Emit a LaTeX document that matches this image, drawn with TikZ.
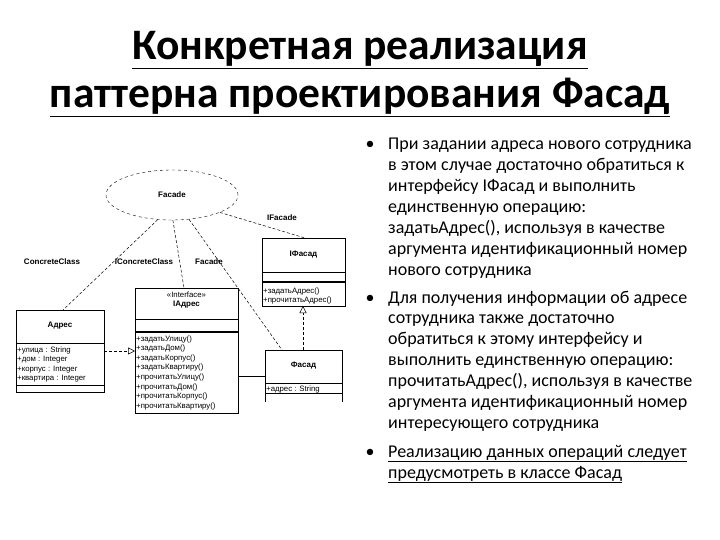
\documentclass[tikz,border=0pt]{standalone}
\usepackage{fontspec}
\setmainfont{Carlito}
\newfontfamily\arial{Liberation Sans}
\usetikzlibrary{shapes.geometric,arrows.meta}
\begin{document}
\begin{tikzpicture}[x=1pt,y=-1pt,
  title/.style={font=\fontsize{43.5}{46}\selectfont\bfseries,anchor=base},
  txt/.style={font=\fontsize{18}{20}\selectfont,anchor=base west,inner sep=0},
  bul/.style={font=\fontsize{18}{20}\selectfont,anchor=base,inner sep=0},
  lbl/.style={font=\arial\fontsize{8}{9}\selectfont\bfseries,inner sep=0},
  mem/.style={font=\arial\fontsize{7.8}{8}\selectfont,anchor=base west,inner sep=0},
  cls/.style={draw,line width=0.6pt},
  dep/.style={densely dashed,line width=0.5pt},
  real/.style={densely dashed,line width=0.5pt,-{Triangle[open,length=7pt,width=7pt]}}]
\useasboundingbox (0,0) rectangle (720,540);
% title
\node[title] (t1) at (360,60) {\underline{Конкретная реализация}};
\node[title] (t2) at (360,108) {\underline{паттерна проектирования Фасад}};
% bullets
\node[bul] (b1) at (370,150) {•};
\node[bul] (b2) at (370,303) {•};
\node[bul] (b3) at (370,457) {•};
\foreach \i/\s in {0/{При задании адреса нового сотрудника},1/{в этом случае достаточно обратиться к},2/{интерфейсу IФасад и выполнить},3/{единственную операцию:},4/{задатьАдрес(), используя в качестве},5/{аргумента идентификационный номер},6/{нового сотрудника}}
  \node[txt] (p\i) at (388,150+20.9*\i) {\s};
\foreach \i/\s in {0/{Для получения информации об адресе},1/{сотрудника также достаточно},2/{обратиться к этому интерфейсу и},3/{выполнить единственную операцию:},4/{прочитатьАдрес(), используя в качестве},5/{аргумента идентификационный номер},6/{интересующего сотрудника}}
  \node[txt] (q\i) at (388,303+20.9*\i) {\s};
\node[txt] (r0) at (388,457) {\underline{Реализацию данных операций следует}};
\node[txt] (r1) at (388,478) {\underline{предусмотреть в классе Фасад}};
% ellipse
\node[draw,dashed,ellipse,minimum width=132,minimum height=50,lbl] (fac) at (172,195) {Facade};
% labels
\node[lbl] (l1) at (52,262) {ConcreteClass};
\node[lbl] (l2) at (144,262) {IConcreteClass};
\node[lbl] (l3) at (209,262) {Facade};
\node[lbl] (l4) at (282,218) {IFacade};
% IFasad
\draw[cls] (262,238) rectangle (345,306);
\draw (262,272) -- (345,272);
\draw[line width=1.4pt] (262,282) -- (345,282);
\node[lbl] (nif) at (303.5,255) {IФасад};
\node[mem] (m1) at (263,293) {+задатьАдрес()};
\node[mem] (m2) at (263,302) {+прочитатьАдрес()};
\coordinate (iftop) at (305,238);
\coordinate (ifbot) at (303,306);
% IAdres
\draw[cls] (135,288) rectangle (238,413);
\draw (135,319) -- (238,319);
\draw[line width=1.4pt] (135,332) -- (238,332);
\node[mem,anchor=base] (st) at (186.5,297) {«Interface»};
\node[lbl] (nia) at (186.5,305) {IАдрес};
\foreach \i/\s in {0/{+задатьУлицу()},1/{+задатьДом()},2/{+задатьКорпус()},3/{+задатьКвартиру()},4/{+прочитатьУлицу()},5/{+прочитатьДом()},6/{+прочитатьКорпус()},7/{+прочитатьКвартиру()}}
  \node[mem] (o\i) at (136,341+9.6*\i) {\s};
\coordinate (iatop) at (184,288);
\coordinate (ialeft) at (135,351);
\coordinate (iaright) at (238,376);
% Adres
\draw[cls] (16,310) rectangle (104,392);
\draw (16,343) -- (104,343);
\draw (16,385) -- (104,385);
\node[lbl] (nad) at (60,326) {Адрес};
\foreach \i/\s in {0/{+улица : String},1/{+дом : Integer},2/{+корпус : Integer},3/{+квартира : Integer}}
  \node[mem] (a\i) at (17,352+9.6*\i) {\s};
\coordinate (adtop) at (63,310);
\coordinate (adright) at (104,351);
% Fasad
\draw[cls] (265,402) -- (265,350) -- (342,350) -- (342,402);
\draw (265,383) -- (342,383);
\draw (265,393) -- (342,393);
\node[lbl] (nfa) at (303.5,366) {Фасад};
\node[mem] (f0) at (266,391) {+адрес : String};
\coordinate (fatop) at (282,350);
\coordinate (fatop2) at (303,350);
\coordinate (faleft) at (265,376);
% connectors
\draw[dep] (fac.240) -- (adtop);
\draw[dep] (fac.272) -- (iatop);
\draw[dep] (fac.305) -- (fatop);
\draw[dep] (fac.340) -- (iftop);
\draw[real] (adright) -- (ialeft);
\draw[real] (fatop2) -- (ifbot);
\draw[line width=0.8pt] (iaright) -- (faleft);
\end{tikzpicture}
\end{document}
